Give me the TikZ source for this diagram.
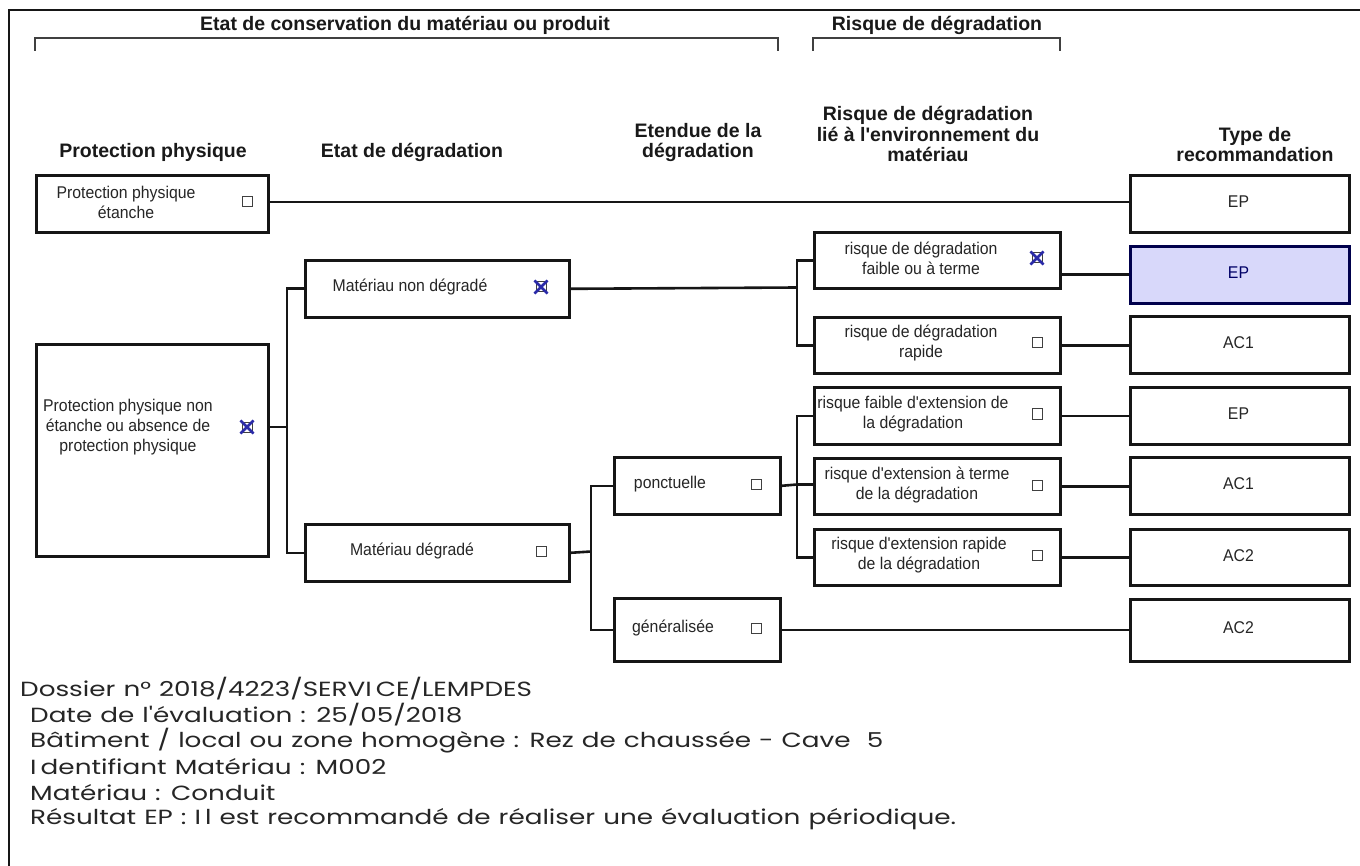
\documentclass[tikz,border=0pt]{standalone}
\usepackage{fontspec}
\setmainfont{Liberation Sans}
\newfontfamily\hdrfont{Liberation Sans}
\newfontfamily\boxfont{Liberation Sans}[FakeStretch=0.93]
\newfontfamily\infofont{Poppins}[FakeStretch=1.28, WordSpace=1.15]
\definecolor{ink}{HTML}{161616}
\definecolor{hilite}{HTML}{D8D8FA}
\definecolor{xblue}{HTML}{2A2AA8}
\tikzset{
  box/.style={draw=ink, line width=2.6pt, inner sep=0pt, anchor=north west},
  lbl/.style={font=\boxfont\fontsize{17}{20}\selectfont, align=center, text=black!85, inner sep=0pt},
  hdr/.style={font=\hdrfont\bfseries\fontsize{19.5}{20.5}\selectfont, align=center, text=black!90, inner sep=0pt},
  cb/.style={draw=black!75, line width=1pt, minimum size=10pt, inner sep=0pt, fill=white},
  xmark/.style={draw=xblue, line width=2.6pt, shorten <=-1.5pt, shorten >=-1.5pt},
  conn/.style={draw=ink, line width=2.6pt},
  brk/.style={draw=black!75, line width=2.4pt},
  info/.style={font=\infofont\fontsize{20.5}{26}\selectfont, text=black!85, anchor=west, inner sep=0pt}
}
\begin{document}
\begin{tikzpicture}[x=1pt,y=-1pt]
\useasboundingbox[fill=white] (0,0) rectangle (1360,866);
% frame
\draw[ink, line width=2pt] (9,866) -- (9,10) -- (1360,10);
% top brackets
\node[hdr] (t1) at (405,25) {Etat de conservation du matériau ou produit};
\node[hdr] (t2) at (937,25) {Risque de dégradation};
\coordinate (bl1) at (35,51); \coordinate (br1) at (778,51);
\coordinate (bl2) at (813,51); \coordinate (br2) at (1060,51);
\draw[brk] (bl1) -- ++(0,-13) -| (br1);
\draw[brk] (bl2) -- ++(0,-13) -| (br2);
% column headers
\node[hdr, anchor=south] (h1) at (153,162) {Protection physique};
\node[hdr, anchor=south] (h2) at (412,162) {Etat de dégradation};
\node[hdr, anchor=south] (h3) at (698,162) {Etendue de la\\dégradation};
\node[hdr, anchor=south] (h4) at (928,162) {Risque de dégradation\\lié à l'environnement du\\matériau};
\node[hdr, anchor=south] (h5) at (1255,162) {Type de\\recommandation};
% column 1
\node[box, minimum width=232pt, minimum height=57pt] (A) at (35,174) {};
\node[lbl] (At) at (126,202) {Protection physique\\étanche};
\node[cb] (cbA) at (247.5,202) {};
\node[box, minimum width=232pt, minimum height=212pt] (B) at (35,343) {};
\node[lbl] (Bt) at (128,427) {Protection physique non\\étanche ou absence de\\protection physique};
\node[cb] (cbB) at (247,427) {};
\draw[xmark] (cbB.north west) -- (cbB.south east);
\draw[xmark] (cbB.north east) -- (cbB.south west);
% column 2
\node[box, minimum width=264pt, minimum height=57pt] (C) at (304,259) {};
\node[lbl] (Ct) at (410,287) {Matériau non dégradé};
\node[cb] (cbC) at (541,287) {};
\draw[xmark] (cbC.north west) -- (cbC.south east);
\draw[xmark] (cbC.north east) -- (cbC.south west);
\node[box, minimum width=264pt, minimum height=57pt] (D) at (304,523) {};
\node[lbl] (Dt) at (412,551) {Matériau dégradé};
\node[cb] (cbD) at (541,551) {};
% column 3
\node[box, minimum width=166pt, minimum height=57pt] (K) at (613,456) {};
\node[lbl] (Kt) at (670,484) {ponctuelle};
\node[cb] (cbK) at (756,484) {};
\node[box, minimum width=166pt, minimum height=63pt] (L) at (613,597) {};
\node[lbl] (Lt) at (673,628) {généralisée};
\node[cb] (cbL) at (756,628) {};
% column 4
\node[box, minimum width=246pt, minimum height=56pt] (E) at (813,231) {};
\node[lbl] (Et) at (921,258) {risque de dégradation\\faible ou à terme};
\node[cb] (cbE) at (1037,258) {};
\draw[xmark] (cbE.north west) -- (cbE.south east);
\draw[xmark] (cbE.north east) -- (cbE.south west);
\node[box, minimum width=246pt, minimum height=56pt] (F) at (813,316) {};
\node[lbl] (Ft) at (921,343) {risque de dégradation\\rapide};
\node[cb] (cbF) at (1037,343) {};
\node[box, minimum width=246pt, minimum height=57pt] (G) at (813,386) {};
\node[lbl] (Gt) at (913,414) {risque faible d'extension de\\la dégradation};
\node[cb] (cbG) at (1037,414) {};
\node[box, minimum width=246pt, minimum height=56pt] (H) at (813,457) {};
\node[lbl] (Ht) at (917,485) {risque d'extension à terme\\de la dégradation};
\node[cb] (cbH) at (1037,485) {};
\node[box, minimum width=246pt, minimum height=56pt] (I) at (813,528) {};
\node[lbl] (It) at (919,555) {risque d'extension rapide\\de la dégradation};
\node[cb] (cbI) at (1037,555) {};
% column 5
\node[box, minimum width=219pt, minimum height=57pt] (J1) at (1129,174) {};
\node[lbl] (J1t) at (1238.5,202) {EP};
\node[box, draw=black!70!blue, fill=hilite, minimum width=219pt, minimum height=57pt] (J2) at (1129,245) {};
\node[lbl, text=black!60!blue] (J2t) at (1238.5,273) {EP};
\node[box, minimum width=219pt, minimum height=57pt] (J3) at (1129,315) {};
\node[lbl] (J3t) at (1238.5,343) {AC1};
\node[box, minimum width=219pt, minimum height=57pt] (J4) at (1129,386) {};
\node[lbl] (J4t) at (1238.5,414) {EP};
\node[box, minimum width=219pt, minimum height=57pt] (J5) at (1129,456) {};
\node[lbl] (J5t) at (1238.5,484) {AC1};
\node[box, minimum width=219pt, minimum height=56pt] (J6) at (1129,528) {};
\node[lbl] (J6t) at (1238.5,556) {AC2};
\node[box, minimum width=219pt, minimum height=62pt] (J7) at (1129,598) {};
\node[lbl] (J7t) at (1238.5,628) {AC2};
% connectors
\draw[conn] (A.east |- cbA) -- (J1.west |- cbA);
\coordinate (b1) at (287,427);
\draw[conn] (B.east |- b1) -- (b1);
\draw[conn] (C.west) -| (b1) |- (D.west);
\coordinate (b2) at (797,287.5);
\draw[conn] (C.east) -- (b2);
\draw[conn] (E.west) -| (b2) |- (F.west);
\coordinate (b3) at (591,551.5);
\draw[conn] (D.east) -- (b3);
\draw[conn] (K.west) -| (b3) |- (L.west);
\coordinate (b4) at (797,484.5);
\draw[conn] (K.east) -- (b4);
\draw[conn] (G.west) -| (b4) |- (I.west);
\draw[conn] (b4) -- (H.west |- b4);
\draw[conn] (J2.west -| E.east) -- (J2.west);
\draw[conn] (F.east) -- (J3.west |- F.east);
\draw[conn] (G.east) -- (J4.west |- G.east);
\draw[conn] (H.east) -- (J5.west |- H.east);
\draw[conn] (I.east) -- (J6.west |- I.east);
\draw[conn] (L.east) -- (J7.west |- L.east);
% info text
\node[info] (i1) at (20,689) {Dossier n° 2018/4223/SERVI\hspace{0.2em}CE/LEMPDES};
\node[info] (i2) at (30,715) {Date de l'évaluation : 25/05/2018};
\node[info] (i3) at (30,741) {Bâtiment / local ou zone homogène : Rez de chaussée - Cave\ \ 5};
\node[info] (i4) at (30,767) {I\hspace{0.2em}dentifiant Matériau : M002};
\node[info] (i5) at (30,793) {Matériau : Conduit};
\node[info] (i6) at (30,819) {Résultat EP : I\hspace{0.2em}l est recommandé de réaliser une évaluation périodique.};
\end{tikzpicture}
\end{document}
